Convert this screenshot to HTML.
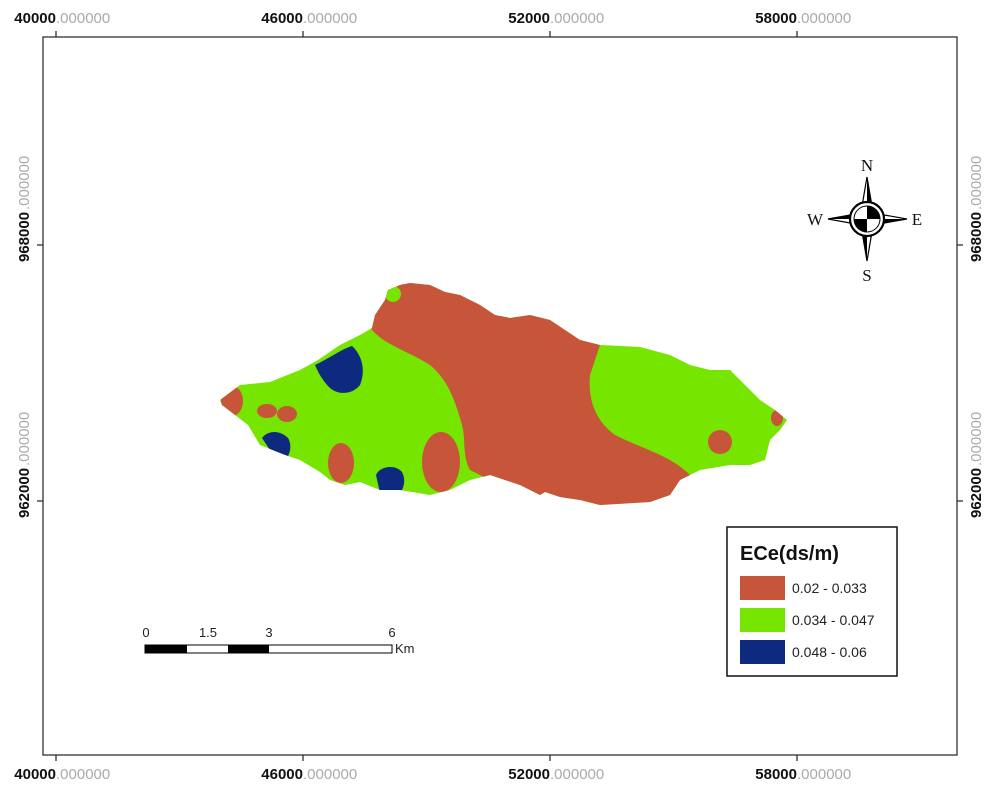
<!DOCTYPE html>
<html><head><meta charset="utf-8"><style>
html,body{margin:0;padding:0;background:#fff;}
svg{display:block;font-family:"Liberation Sans",sans-serif;}
.b{font-weight:bold;font-size:15px;fill:#111;}
.g{font-size:15px;fill:#aaa;}
</style></head><body>
<svg width="1000" height="804" viewBox="0 0 1000 804">
<rect x="43" y="37" width="914" height="718" fill="#fff" stroke="#222" stroke-width="1.2"/>
<g stroke="#222" stroke-width="1.2">
<line x1="56" y1="31" x2="56" y2="37"/><line x1="303" y1="31" x2="303" y2="37"/><line x1="550" y1="31" x2="550" y2="37"/><line x1="797" y1="31" x2="797" y2="37"/>
<line x1="56" y1="755" x2="56" y2="761"/><line x1="303" y1="755" x2="303" y2="761"/><line x1="550" y1="755" x2="550" y2="761"/><line x1="797" y1="755" x2="797" y2="761"/>
<line x1="37" y1="245" x2="43" y2="245"/><line x1="37" y1="501" x2="43" y2="501"/>
<line x1="957" y1="245" x2="963" y2="245"/><line x1="957" y1="501" x2="963" y2="501"/>
</g>
<g>
<text x="56" y="23" text-anchor="end" class="b">40000</text><text x="56" y="23" class="g">.000000</text>
<text x="303" y="23" text-anchor="end" class="b">46000</text><text x="303" y="23" class="g">.000000</text>
<text x="550" y="23" text-anchor="end" class="b">52000</text><text x="550" y="23" class="g">.000000</text>
<text x="797" y="23" text-anchor="end" class="b">58000</text><text x="797" y="23" class="g">.000000</text>
<text x="56" y="779" text-anchor="end" class="b">40000</text><text x="56" y="779" class="g">.000000</text>
<text x="303" y="779" text-anchor="end" class="b">46000</text><text x="303" y="779" class="g">.000000</text>
<text x="550" y="779" text-anchor="end" class="b">52000</text><text x="550" y="779" class="g">.000000</text>
<text x="797" y="779" text-anchor="end" class="b">58000</text><text x="797" y="779" class="g">.000000</text>
</g>
<g transform="translate(29,262) rotate(-90)"><text x="0" y="0" class="b">968000</text><text x="52" y="0" class="g">.000000</text></g>
<g transform="translate(29,518) rotate(-90)"><text x="0" y="0" class="b">962000</text><text x="52" y="0" class="g">.000000</text></g>
<g transform="translate(981,262) rotate(-90)"><text x="0" y="0" class="b">968000</text><text x="52" y="0" class="g">.000000</text></g>
<g transform="translate(981,518) rotate(-90)"><text x="0" y="0" class="b">962000</text><text x="52" y="0" class="g">.000000</text></g>

<defs><clipPath id="isl"><polygon points="220,400 240,385 270,382 300,370 318,360 340,345 360,335 372,328 375,315 385,300 388,290 400,285 410,283 430,285 445,292 460,295 480,305 495,315 510,318 530,315 550,320 565,330 580,340 600,345 640,347 670,355 690,365 710,370 730,370 745,385 760,400 775,410 787,420 780,430 770,440 765,460 750,465 730,465 700,470 690,475 680,480 670,495 650,502 600,505 580,500 560,497 545,492 540,495 520,485 490,475 470,480 450,490 430,495 400,490 380,490 360,482 345,485 330,480 320,472 300,460 285,455 260,445 248,425 235,415 222,405"/></clipPath></defs>
<g clip-path="url(#isl)">
<rect x="200" y="260" width="600" height="260" fill="#76e500"/>
<path d="M350,270 L372,330 C385,345 410,352 430,365 C448,380 455,400 462,425 C466,440 462,455 470,470 L490,480 L560,510 L700,510 L690,475 C670,455 640,448 615,435 C595,420 588,400 590,375 L600,345 L600,260 L350,260 Z" fill="#c6553a"/>
<ellipse cx="232" cy="401" rx="11" ry="15" fill="#c6553a"/>
<ellipse cx="267" cy="411" rx="10" ry="7" fill="#c6553a"/>
<ellipse cx="287" cy="414" rx="10" ry="8" fill="#c6553a"/>
<ellipse cx="341" cy="463" rx="13" ry="20" fill="#c6553a"/>
<ellipse cx="441" cy="462" rx="19" ry="30" fill="#c6553a"/>
<circle cx="720" cy="442" r="12" fill="#c6553a"/>
<ellipse cx="777" cy="418" rx="6" ry="8" fill="#c6553a"/>
<circle cx="393" cy="294" r="8" fill="#76e500"/>
<path d="M315,365 C330,358 340,350 352,346 C362,355 366,370 360,385 C352,395 338,395 330,388 C322,380 318,372 315,365 Z" fill="#0d2a7e"/>
<path d="M262,438 C268,430 280,430 288,438 C292,445 290,452 288,456 L270,450 Z" fill="#0d2a7e"/>
<path d="M376,475 C380,466 395,464 402,472 C406,480 404,488 400,493 L380,493 Z" fill="#0d2a7e"/>
</g>

<g>
<polygon points="867,177 873,212 867,219 861,212" fill="#fff" stroke="#000" stroke-width="1.2"/>
<polygon points="867,177 873,212 867,219" fill="#000"/>
<polygon points="867,261 861,226 867,219 873,226" fill="#fff" stroke="#000" stroke-width="1.2"/>
<polygon points="867,261 861,226 867,219" fill="#000"/>
<polygon points="828,219 861,213 867,219 861,225" fill="#fff" stroke="#000" stroke-width="1.2"/>
<polygon points="828,219 861,213 867,219" fill="#000"/>
<polygon points="907,219 873,225 867,219 873,213" fill="#fff" stroke="#000" stroke-width="1.2"/>
<polygon points="907,219 873,225 867,219" fill="#000"/>
<circle cx="867" cy="219" r="17" fill="#fff" stroke="#000" stroke-width="2.2"/>
<circle cx="867" cy="219" r="13" fill="#fff" stroke="#000" stroke-width="1"/>
<path d="M867,219 L867,206 A13,13 0 0 1 880,219 Z" fill="#000"/>
<path d="M867,219 L867,232 A13,13 0 0 1 854,219 Z" fill="#000"/>
<g font-family="Liberation Serif,serif" font-size="17" fill="#111" text-anchor="middle">
<text x="867" y="171">N</text><text x="867" y="281">S</text><text x="815" y="225">W</text><text x="917" y="225">E</text>
</g>
</g>

<g>
<rect x="145" y="645" width="247" height="8" fill="#fff" stroke="#000" stroke-width="1"/>
<rect x="145" y="645" width="42" height="8" fill="#000"/>
<rect x="228" y="645" width="41" height="8" fill="#000"/>
<g font-size="13" fill="#222" text-anchor="middle">
<text x="146" y="637">0</text><text x="208" y="637">1.5</text><text x="269" y="637">3</text><text x="392" y="637">6</text>
</g>
<text x="395" y="653" font-size="13" fill="#222">Km</text>
</g>

<g>
<rect x="727" y="527" width="170" height="149" fill="#fff" stroke="#111" stroke-width="1.5"/>
<text x="740" y="560" font-size="20" font-weight="bold" fill="#111">ECe(ds/m)</text>
<rect x="740" y="576" width="45" height="24" fill="#c6553a"/>
<rect x="740" y="608" width="45" height="24" fill="#76e500"/>
<rect x="740" y="640" width="45" height="24" fill="#0d2a7e"/>
<g font-size="14" fill="#222">
<text x="792" y="593">0.02 - 0.033</text>
<text x="792" y="625">0.034 - 0.047</text>
<text x="792" y="657">0.048 - 0.06</text>
</g>
</g>
</svg>
</body></html>
